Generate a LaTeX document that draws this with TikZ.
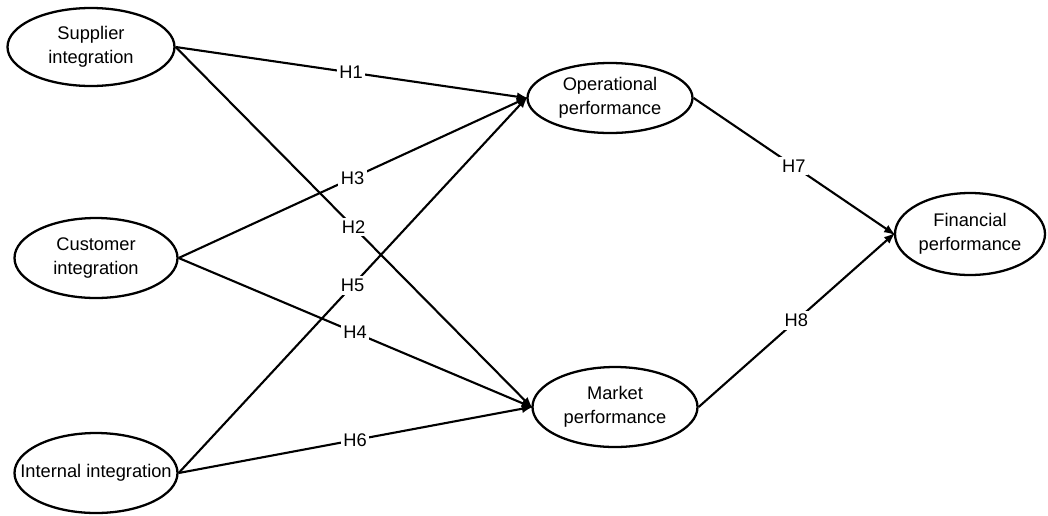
\documentclass[tikz,border=0pt]{standalone}
\usepackage{fontspec}
\setmainfont{Liberation Sans}
\usetikzlibrary{arrows,shapes.geometric}

\begin{document}
\begin{tikzpicture}[>=latex,
  construct/.style={ellipse,draw,line width=1.3pt,inner sep=0pt,align=center,
    font=\fontsize{10.4}{13.6}\selectfont},
  hyp/.style={->,line width=1.2pt,shorten >=-1pt},
  hlabel/.style={midway,fill=white,inner sep=1.5pt,font=\fontsize{10.4}{12}\selectfont}]
\useasboundingbox (0,0) rectangle (20.96,-10.3);

% integration constructs
\path
(1.82,-0.94)  node[construct,minimum width=3.34cm,minimum height=1.56cm] (sup) {Supplier\\integration}
(1.92,-5.16)  node[construct,minimum width=3.26cm,minimum height=1.6cm]  (cus) {Customer\\integration}
(1.92,-9.46)  node[construct,inner xsep=-11pt,minimum width=3.26cm,minimum height=1.6cm]  (int) {Internal integration}
;

% performance constructs
\path
(12.2,-1.96)  node[construct,minimum width=3.3cm,minimum height=1.4cm]  (ope) {Operational\\performance}
(12.3,-8.14)  node[construct,minimum width=3.3cm,minimum height=1.6cm]  (mar) {Market\\performance}
(19.4,-4.68)  node[construct,minimum width=3.0cm,minimum height=1.64cm] (fin) {Financial\\performance}
;

\draw[hyp] (sup.east)--(ope.west) node[hlabel]{H1};
\draw[hyp] (sup.east)--(mar.west) node[hlabel]{H2};
\draw[hyp] (cus.east)--(ope.west) node[hlabel]{H3};
\draw[hyp] (cus.east)--(mar.west) node[hlabel]{H4};
\draw[hyp] (int.east)--(ope.west) node[hlabel]{H5};
\draw[hyp] (int.east)--(mar.west) node[hlabel]{H6};

\draw[hyp] (ope.east)--(fin.west) node[hlabel]{H7};
\draw[hyp] (mar.east)--(fin.west) node[hlabel]{H8};

\end{tikzpicture}
\end{document}
